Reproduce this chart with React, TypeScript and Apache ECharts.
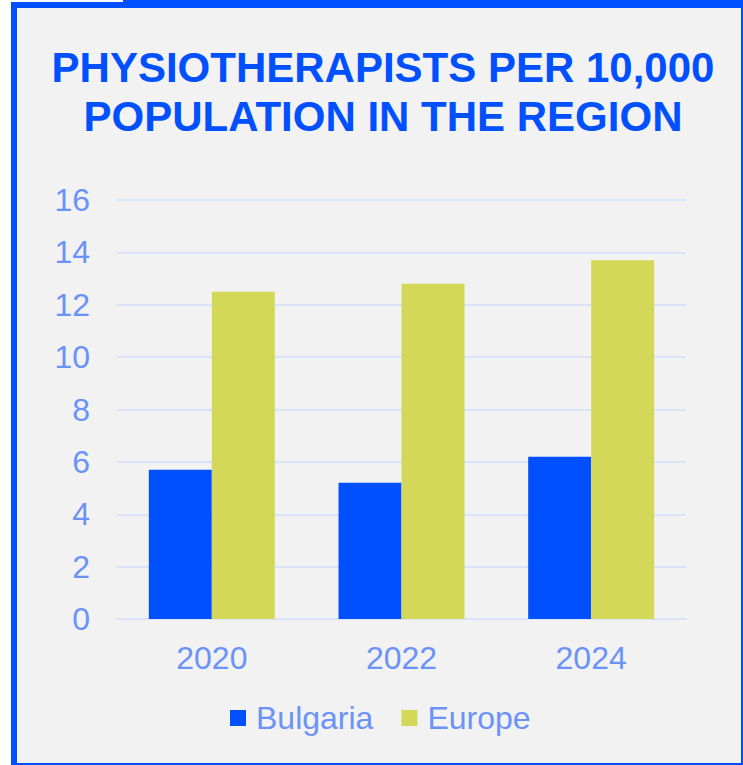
import React, { useEffect, useRef } from "react";
import * as echarts from "echarts";

const categories = ["2020", "2022", "2024"];
const bulgaria = [5.7, 5.2, 6.2];
const europe = [12.5, 12.8, 13.7];
const yTicks = { min: 0, max: 16, interval: 2 };

const BLUE = "#0050ff";
const LIME = "#d3d858";
const LABEL = "#6b93f7";
const GRID = "#d9e3f9";
const FONT = "'Liberation Sans', Arial, sans-serif";

export default function App() {
  const ref = useRef<HTMLDivElement>(null);
  useEffect(() => {
    if (!ref.current) return;
    const chart = echarts.init(ref.current, null, { renderer: "svg" });
    chart.setOption({
      animation: false,
      backgroundColor: "#ffffff",
      graphic: [
        { type: "rect", z: -10, shape: { x: 11, y: 2, width: 740, height: 770 }, style: { fill: BLUE } },
        { type: "rect", z: -10, shape: { x: 123, y: 0, width: 630, height: 8 }, style: { fill: BLUE } },
        { type: "rect", z: -9, shape: { x: 17, y: 8, width: 724, height: 755 }, style: { fill: "#f2f2f2" } },
      ],
      title: {
        text: "PHYSIOTHERAPISTS PER 10,000\nPOPULATION IN THE REGION",
        left: 378,
        top: 38,
        textAlign: "center",
        textStyle: {
          color: BLUE,
          fontFamily: FONT,
          fontWeight: "bold",
          fontSize: 42,
          lineHeight: 49,
        },
      },
      legend: {
        data: ["Bulgaria", "Europe"],
        bottom: 26,
        left: 225,
        itemWidth: 16,
        itemHeight: 16,
        itemGap: 28,
        icon: "rect",
        textStyle: { color: LABEL, fontFamily: FONT, fontSize: 32, padding: [0, 0, 0, 5] },
      },
      grid: { left: 117, right: 57, top: 200, bottom: 146, containLabel: false },
      xAxis: {
        type: "category",
        data: categories,
        axisLine: { show: true, lineStyle: { color: GRID, width: 2 } },
        axisTick: { show: false },
        axisLabel: { color: LABEL, fontFamily: FONT, fontSize: 32, margin: 23 },
      },
      yAxis: {
        type: "value",
        min: yTicks.min,
        max: yTicks.max,
        interval: yTicks.interval,
        axisLine: { show: false },
        axisTick: { show: false },
        splitLine: { lineStyle: { color: GRID, width: 2 } },
        axisLabel: { color: LABEL, fontFamily: FONT, fontSize: 32, margin: 27 },
      },
      series: [
        {
          name: "Bulgaria",
          type: "bar",
          data: bulgaria,
          itemStyle: { color: BLUE },
          barGap: "0%",
          barCategoryGap: "33.6%",
        },
        {
          name: "Europe",
          type: "bar",
          data: europe,
          itemStyle: { color: LIME },
          barGap: "0%",
          barCategoryGap: "33.6%",
        },
      ],
    });
    return () => chart.dispose();
  }, []);
  return (
    <div
      ref={ref}
      style={{ position: "absolute", left: 0, top: 0, width: 743, height: 765 }}
    />
  );
}
